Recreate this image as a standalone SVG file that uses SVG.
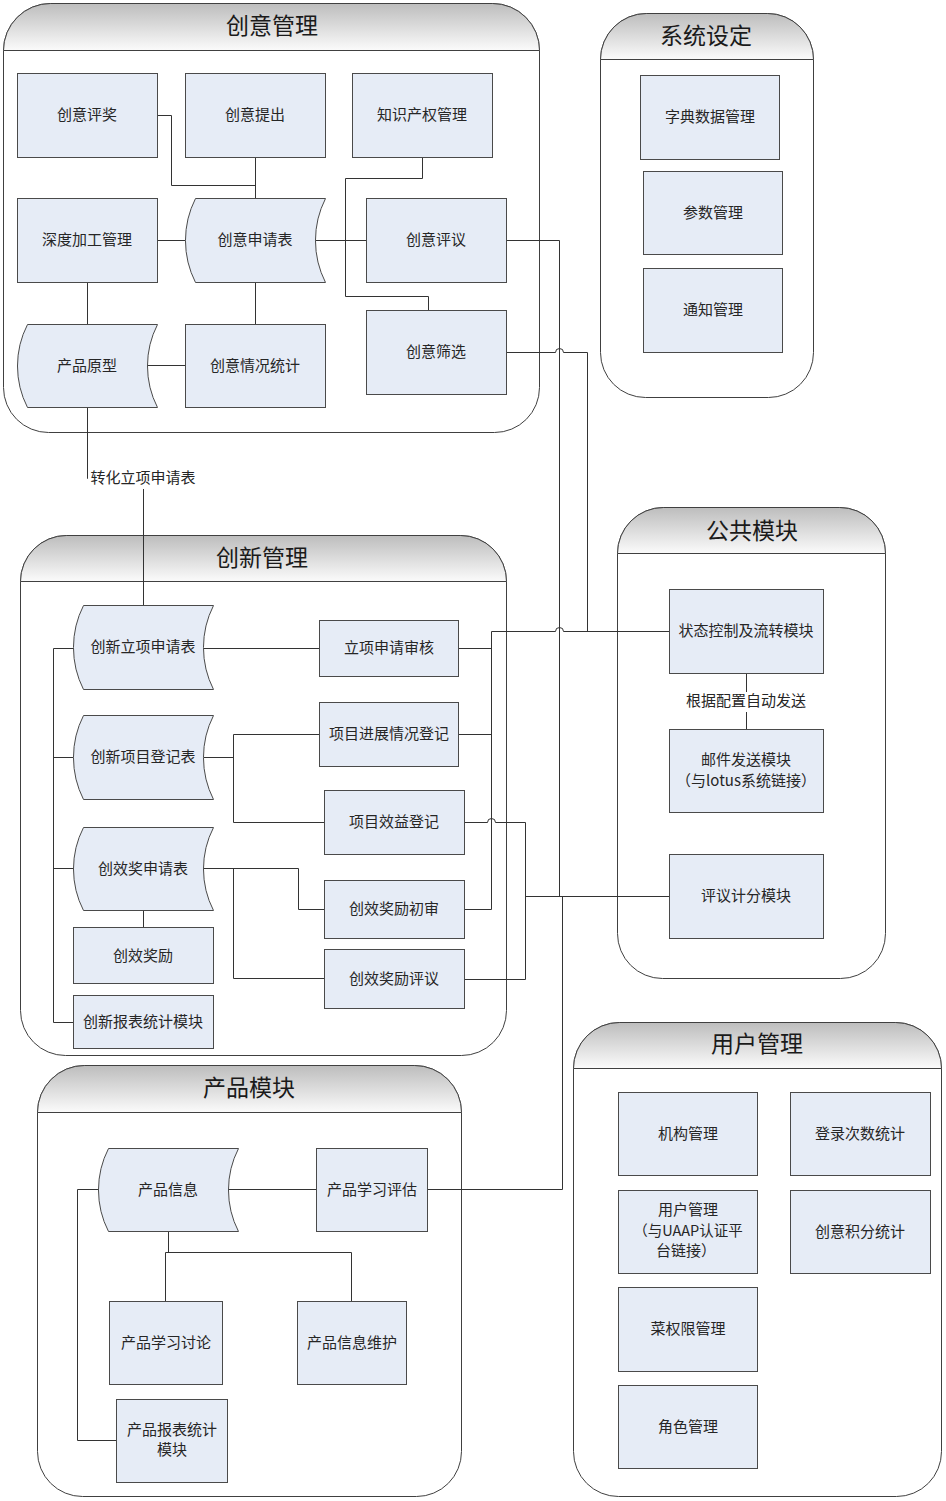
<svg xmlns="http://www.w3.org/2000/svg" width="946" height="1501" viewBox="0 0 946 1501">
<defs>
<linearGradient id="hg" x1="0" y1="0" x2="0" y2="1">
<stop offset="0" stop-color="#bdbdbd"/>
<stop offset="1" stop-color="#fbfbfb"/>
</linearGradient>
<style>
.box{fill:#ffffff;stroke:#404040;stroke-width:1}
.hdr{fill:url(#hg);stroke:#404040;stroke-width:1}
.n{fill:#e6ecf6;stroke:#4a4a4a;stroke-width:1}
.c{fill:none;stroke:#333333;stroke-width:1}
.t{font-family:"Noto Sans CJK SC","Liberation Sans",sans-serif;font-size:15px;fill:#262626;text-anchor:middle}
.ttl{font-family:"Noto Sans CJK SC","Liberation Sans",sans-serif;font-size:23px;fill:#1a1a1a;text-anchor:middle}
.lblbg{fill:#ffffff;stroke:none}
</style>
</defs>
<rect width="946" height="1501" fill="#ffffff"/>

<!-- containers -->
<g id="containers">
<g id="c-chuangyi">
<path class="box" d="M3.5,50.5 A47,47 0 0 1 50.5,3.5 H492.5 A47,47 0 0 1 539.5,50.5 V387.5 A45,45 0 0 1 494.5,432.5 H48.5 A45,45 0 0 1 3.5,387.5 Z"/>
<path class="hdr" d="M3.5,50.5 A47,47 0 0 1 50.5,3.5 H492.5 A47,47 0 0 1 539.5,50.5 Z"/>
<text class="ttl" x="272" y="34">创意管理</text>
</g>
<g id="c-xitong">
<path class="box" d="M600.5,59.5 A46,46 0 0 1 646.5,13.5 H767.5 A46,46 0 0 1 813.5,59.5 V352.5 A45,45 0 0 1 768.5,397.5 H645.5 A45,45 0 0 1 600.5,352.5 Z"/>
<path class="hdr" d="M600.5,59.5 A46,46 0 0 1 646.5,13.5 H767.5 A46,46 0 0 1 813.5,59.5 Z"/>
<text class="ttl" x="706" y="44">系统设定</text>
</g>
<g id="c-chuangxin">
<path class="box" d="M20.5,581.5 A46,46 0 0 1 66.5,535.5 H460.5 A46,46 0 0 1 506.5,581.5 V1010.5 A45,45 0 0 1 461.5,1055.5 H65.5 A45,45 0 0 1 20.5,1010.5 Z"/>
<path class="hdr" d="M20.5,581.5 A46,46 0 0 1 66.5,535.5 H460.5 A46,46 0 0 1 506.5,581.5 Z"/>
<text class="ttl" x="262" y="566">创新管理</text>
</g>
<g id="c-gonggong">
<path class="box" d="M617.5,553.5 A46,46 0 0 1 663.5,507.5 H839.5 A46,46 0 0 1 885.5,553.5 V933.5 A45,45 0 0 1 840.5,978.5 H662.5 A45,45 0 0 1 617.5,933.5 Z"/>
<path class="hdr" d="M617.5,553.5 A46,46 0 0 1 663.5,507.5 H839.5 A46,46 0 0 1 885.5,553.5 Z"/>
<text class="ttl" x="752" y="539">公共模块</text>
</g>
<g id="c-chanpin">
<path class="box" d="M37.5,1112.5 A47,47 0 0 1 84.5,1065.5 H414.5 A47,47 0 0 1 461.5,1112.5 V1451.5 A45,45 0 0 1 416.5,1496.5 H82.5 A45,45 0 0 1 37.5,1451.5 Z"/>
<path class="hdr" d="M37.5,1112.5 A47,47 0 0 1 84.5,1065.5 H414.5 A47,47 0 0 1 461.5,1112.5 Z"/>
<text class="ttl" x="249" y="1096">产品模块</text>
</g>
<g id="c-yonghu">
<path class="box" d="M573.5,1068.5 A46,46 0 0 1 619.5,1022.5 H895.5 A46,46 0 0 1 941.5,1068.5 V1451.5 A45,45 0 0 1 896.5,1496.5 H618.5 A45,45 0 0 1 573.5,1451.5 Z"/>
<path class="hdr" d="M573.5,1068.5 A46,46 0 0 1 619.5,1022.5 H895.5 A46,46 0 0 1 941.5,1068.5 Z"/>
<text class="ttl" x="757" y="1052">用户管理</text>
</g>
</g>

<!-- connectors -->
<g id="connectors">
<path class="c" d="M157.5,115.5 H171.5 V185.5 H255.5 V198.5"/>
<path class="c" d="M255.5,157.5 V198.5"/>
<path class="c" d="M422.5,157.5 V178.5 H345.5 V296.5 H428.5 V310.5"/>
<path class="c" d="M307.5,240.5 H366.5"/>
<path class="c" d="M157.5,240.5 H185.5"/>
<path class="c" d="M87.5,282.5 V324.5"/>
<path class="c" d="M255.5,282.5 V324.5"/>
<path class="c" d="M147.5,365.5 H185.5"/>
<path class="c" d="M87.5,407.5 V478.5 H143.5 V605.5"/>
<path class="c" d="M506.5,240.5 H559.5 V896.5"/>
<path class="c" d="M506.5,352.5 H555.5 A4,4 0 0 1 563.5,352.5 H587.5 V631.5"/>
<path class="c" d="M464.5,909.5 H491.5 V631.5 H555.5 A4,4 0 0 1 563.5,631.5 H669.5"/>
<path class="c" d="M458.5,648.5 H491.5"/>
<path class="c" d="M458.5,734.5 H491.5"/>
<path class="c" d="M464.5,822.5 H487.5 A4,4 0 0 1 495.5,822.5 H525.5 V979.5 H464.5"/>
<path class="c" d="M525.5,896.5 H669.5"/>
<path class="c" d="M427.5,1189.5 H562.5 V896.5"/>
<path class="c" d="M73.5,648.5 H53.5 V1022.5 H73.5"/>
<path class="c" d="M53.5,757.5 H73.5"/>
<path class="c" d="M53.5,868.5 H73.5"/>
<path class="c" d="M203.5,648.5 H319.5"/>
<path class="c" d="M203.5,757.5 H233.5"/>
<path class="c" d="M319.5,734.5 H233.5 V822.5 H324.5"/>
<path class="c" d="M203.5,868.5 H298.5 V909.5 H324.5"/>
<path class="c" d="M233.5,868.5 V978.5 H324.5"/>
<path class="c" d="M143.5,910.5 V927.5"/>
<path class="c" d="M746.5,673.5 V729.5"/>
<path class="c" d="M228.5,1189.5 H316.5"/>
<path class="c" d="M168.5,1231.5 V1252.5"/>
<path class="c" d="M165.5,1301.5 V1252.5 H351.5 V1301.5"/>
<path class="c" d="M98.5,1189.5 H77.5 V1440.5 H116.5"/>
<rect class="lblbg" x="88" y="469" width="111" height="20"/>
<text class="t" x="143" y="483">转化立项申请表</text>
<rect class="lblbg" x="684" y="692" width="124" height="20"/>
<text class="t" x="746" y="706">根据配置自动发送</text>
</g>

<!-- nodes: 创意管理 -->
<g id="n-chuangyipingjiang"><rect class="n" x="17.5" y="73.5" width="140" height="84"/><text class="t" x="87" y="120">创意评奖</text></g>
<g id="n-chuangyitichu"><rect class="n" x="185.5" y="73.5" width="140" height="84"/><text class="t" x="255" y="120">创意提出</text></g>
<g id="n-zhishichanquan"><rect class="n" x="352.5" y="73.5" width="140" height="84"/><text class="t" x="422" y="120">知识产权管理</text></g>
<g id="n-shendujiagong"><rect class="n" x="17.5" y="198.5" width="140" height="84"/><text class="t" x="87" y="245">深度加工管理</text></g>
<g id="n-chuangyishenqing"><path class="n" d="M195.5,198.5 H325.5 A93,93 0 0 0 325.5,282.5 H195.5 A93,93 0 0 1 195.5,198.5 Z"/><text class="t" x="255" y="245">创意申请表</text></g>
<g id="n-chuangyipingyi"><rect class="n" x="366.5" y="198.5" width="140" height="84"/><text class="t" x="436" y="245">创意评议</text></g>
<g id="n-chanpinyuanxing"><path class="n" d="M27.5,324.5 H157.5 A91,91 0 0 0 157.5,407.5 H27.5 A91,91 0 0 1 27.5,324.5 Z"/><text class="t" x="87" y="371">产品原型</text></g>
<g id="n-chuangyiqingkuang"><rect class="n" x="185.5" y="324.5" width="140" height="83"/><text class="t" x="255" y="371">创意情况统计</text></g>
<g id="n-chuangyishaixuan"><rect class="n" x="366.5" y="310.5" width="140" height="84"/><text class="t" x="436" y="357">创意筛选</text></g>

<!-- nodes: 系统设定 -->
<g id="n-zidian"><rect class="n" x="640.5" y="75.5" width="139" height="84"/><text class="t" x="710" y="122">字典数据管理</text></g>
<g id="n-canshu"><rect class="n" x="643.5" y="171.5" width="139" height="83"/><text class="t" x="713" y="218">参数管理</text></g>
<g id="n-tongzhi"><rect class="n" x="643.5" y="268.5" width="139" height="84"/><text class="t" x="713" y="315">通知管理</text></g>

<!-- nodes: 创新管理 -->
<g id="n-lixiangshenqingbiao"><path class="n" d="M83.5,605.5 H213.5 A93,93 0 0 0 213.5,689.5 H83.5 A93,93 0 0 1 83.5,605.5 Z"/><text class="t" x="143" y="652">创新立项申请表</text></g>
<g id="n-lixiangshenhe"><rect class="n" x="319.5" y="620.5" width="139" height="56"/><text class="t" x="389" y="653">立项申请审核</text></g>
<g id="n-xiangmudengji"><path class="n" d="M83.5,715.5 H213.5 A93,93 0 0 0 213.5,799.5 H83.5 A93,93 0 0 1 83.5,715.5 Z"/><text class="t" x="143" y="762">创新项目登记表</text></g>
<g id="n-jinzhan"><rect class="n" x="319.5" y="702.5" width="139" height="64"/><text class="t" x="389" y="739">项目进展情况登记</text></g>
<g id="n-xiaoyi"><rect class="n" x="324.5" y="790.5" width="140" height="64"/><text class="t" x="394" y="827">项目效益登记</text></g>
<g id="n-chuangxiaojiangbiao"><path class="n" d="M83.5,827.5 H213.5 A91,91 0 0 0 213.5,910.5 H83.5 A91,91 0 0 1 83.5,827.5 Z"/><text class="t" x="143" y="874">创效奖申请表</text></g>
<g id="n-chushen"><rect class="n" x="324.5" y="880.5" width="140" height="58"/><text class="t" x="394" y="914">创效奖励初审</text></g>
<g id="n-chuangxiaojiangli"><rect class="n" x="73.5" y="927.5" width="140" height="56"/><text class="t" x="143" y="961">创效奖励</text></g>
<g id="n-jianglipingyi"><rect class="n" x="324.5" y="949.5" width="140" height="59"/><text class="t" x="394" y="984">创效奖励评议</text></g>
<g id="n-chuangxinbaobiao"><rect class="n" x="73.5" y="995.5" width="140" height="53"/><text class="t" x="143" y="1027">创新报表统计模块</text></g>

<!-- nodes: 公共模块 -->
<g id="n-zhuangtai"><rect class="n" x="669.5" y="589.5" width="154" height="84"/><text class="t" x="746" y="636">状态控制及流转模块</text></g>
<g id="n-youjian"><rect class="n" x="669.5" y="729.5" width="154" height="83"/><text class="t" x="746" y="765">邮件发送模块</text><text class="t" x="746" y="786">（与lotus系统链接）</text></g>
<g id="n-pingyijifen"><rect class="n" x="669.5" y="854.5" width="154" height="84"/><text class="t" x="746" y="901">评议计分模块</text></g>

<!-- nodes: 产品模块 -->
<g id="n-chanpinxinxi"><path class="n" d="M108.5,1148.5 H238.5 A91,91 0 0 0 238.5,1231.5 H108.5 A91,91 0 0 1 108.5,1148.5 Z"/><text class="t" x="168" y="1195">产品信息</text></g>
<g id="n-xuexipinggu"><rect class="n" x="316.5" y="1148.5" width="111" height="83"/><text class="t" x="372" y="1195">产品学习评估</text></g>
<g id="n-xuexitaolun"><rect class="n" x="109.5" y="1301.5" width="113" height="83"/><text class="t" x="166" y="1348">产品学习讨论</text></g>
<g id="n-xinxiweihu"><rect class="n" x="297.5" y="1301.5" width="109" height="83"/><text class="t" x="352" y="1348">产品信息维护</text></g>
<g id="n-chanpinbaobiao"><rect class="n" x="116.5" y="1399.5" width="111" height="83"/><text class="t" x="172" y="1435">产品报表统计</text><text class="t" x="172" y="1455">模块</text></g>

<!-- nodes: 用户管理 -->
<g id="n-jigou"><rect class="n" x="618.5" y="1092.5" width="139" height="83"/><text class="t" x="688" y="1139">机构管理</text></g>
<g id="n-denglu"><rect class="n" x="790.5" y="1092.5" width="140" height="83"/><text class="t" x="860" y="1139">登录次数统计</text></g>
<g id="n-yonghu"><rect class="n" x="618.5" y="1190.5" width="139" height="83"/><text class="t" x="688" y="1215">用户管理</text><text class="t" x="688" y="1236" style="font-size:14.5px">（与UAAP认证平</text><text class="t" x="686" y="1256">台链接）</text></g>
<g id="n-jifen"><rect class="n" x="790.5" y="1190.5" width="140" height="83"/><text class="t" x="860" y="1237">创意积分统计</text></g>
<g id="n-caiquanxian"><rect class="n" x="618.5" y="1287.5" width="139" height="84"/><text class="t" x="688" y="1334">菜权限管理</text></g>
<g id="n-juese"><rect class="n" x="618.5" y="1385.5" width="139" height="83"/><text class="t" x="688" y="1432">角色管理</text></g>
</svg>
